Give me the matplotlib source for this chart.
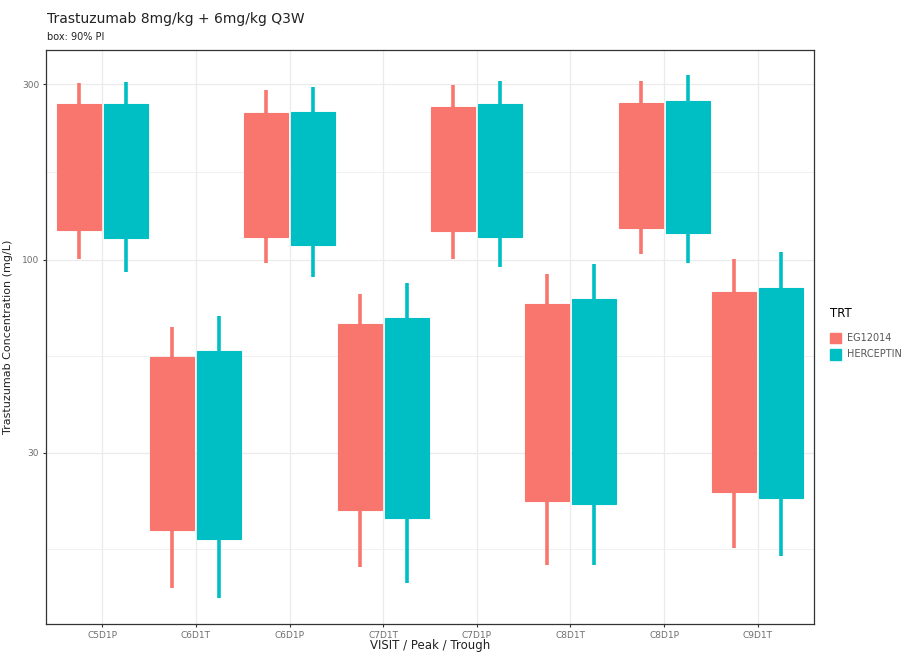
import numpy as np
import matplotlib.pyplot as plt
from matplotlib.patches import Patch
from matplotlib.ticker import FixedLocator, NullFormatter

# visits on the x axis
visits = ["C5D1P", "C6D1T", "C6D1P", "C7D1T", "C7D1P", "C8D1T", "C8D1P", "C9D1T"]
treatments = ["EG12014", "HERCEPTIN"]
colors = ["#F8766D", "#00BFC4"]

# 90% prediction interval (whiskers) and box limits, mg/L
eg_lo = [100.4, 12.9, 97.9, 14.7, 100.6, 14.9, 103.8, 16.5]
eg_q1 = [120.6, 18.5, 115.2, 21.0, 119.9, 22.2, 121.9, 23.5]
eg_q3 = [264.6, 54.6, 250.1, 67.1, 260.6, 75.8, 267.3, 82.0]
eg_hi = [302.8, 65.9, 289.3, 80.9, 298.5, 91.6, 306.6, 100.4]

her_lo = [92.9, 12.1, 90.1, 13.3, 95.9, 14.9, 97.9, 15.7]
her_q1 = [114.9, 17.5, 109.8, 19.9, 115.7, 21.8, 118.2, 22.6]
her_q3 = [264.6, 56.7, 252.1, 69.7, 265.0, 78.4, 270.6, 84.1]
her_hi = [304.7, 70.5, 294.2, 86.4, 306.6, 97.5, 317.7, 104.9]

series = [(eg_lo, eg_q1, eg_q3, eg_hi), (her_lo, her_q1, her_q3, her_hi)]

fig = plt.figure(figsize=(9.11, 6.52), dpi=100)
ax = fig.add_axes([46 / 911, 28 / 652, 768 / 911, 574 / 652])

x = np.arange(1, len(visits) + 1)
offsets = [-0.25, 0.25]
for (lo, q1, q3, hi), off, col in zip(series, offsets, colors):
    lo, q1, q3, hi = map(np.array, (lo, q1, q3, hi))
    ax.vlines(x + off, lo, hi, color=col, linewidth=2.6, zorder=2)
    ax.bar(x + off, q3 - q1, bottom=q1, width=0.47, color=col,
           edgecolor=col, linewidth=0.8, zorder=3)

ax.set_yscale("log")
ax.set_ylim(10.28, 371.5)
ax.set_xlim(0.4, 8.6)

ax.yaxis.set_major_locator(FixedLocator([30, 100, 300]))
ax.set_yticklabels(["30", "100", "300"])
ax.yaxis.set_minor_locator(FixedLocator([16.43, 54.77, 173.2]))
ax.yaxis.set_minor_formatter(NullFormatter())
ax.set_xticks(x)
ax.set_xticklabels(visits)

ax.grid(True, which="major", color="#EBEBEB", linewidth=0.9, zorder=0)
ax.grid(True, which="minor", axis="y", color="#EBEBEB", linewidth=0.5, zorder=0)
ax.set_axisbelow(True)
ax.tick_params(axis="both", which="major", length=2.5, width=0.8, color="#333333",
               labelsize=6.5, labelcolor="#6E6E6E", pad=2.5)
ax.tick_params(axis="y", which="minor", length=0)
for sp in ax.spines.values():
    sp.set_color("#333333")
    sp.set_linewidth(0.9)

ax.set_ylabel("Trastuzumab Concentration (mg/L)", fontsize=8, color="#222222", labelpad=6)
ax.set_xlabel("VISIT / Peak / Trough", fontsize=8.5, color="#222222")
ax.xaxis.set_label_coords(0.5, -15 / 574, transform=ax.transAxes)

fig.text(47 / 911, 1 - 19 / 652, "Trastuzumab 8mg/kg + 6mg/kg Q3W",
         fontsize=10, color="#222222", va="center", ha="left")
fig.text(47 / 911, 1 - 37 / 652, "box: 90% PI",
         fontsize=7, color="#222222", va="center", ha="left")

handles = [Patch(facecolor=c, edgecolor=c, label=t) for t, c in zip(treatments, colors)]
leg = fig.legend(handles=handles, title="TRT", loc="upper left",
                 bbox_to_anchor=(830 / 911, 1 - 307 / 652), frameon=False,
                 fontsize=7, title_fontsize=8.5, handlelength=1.1, handleheight=1.3,
                 handletextpad=0.7, labelspacing=0.6, borderaxespad=0,
                 borderpad=0)
leg._legend_box.align = "left"
leg._legend_box.sep = 9
for t in leg.get_texts():
    t.set_color("#555555")

fig.savefig("out.png", dpi=100)
